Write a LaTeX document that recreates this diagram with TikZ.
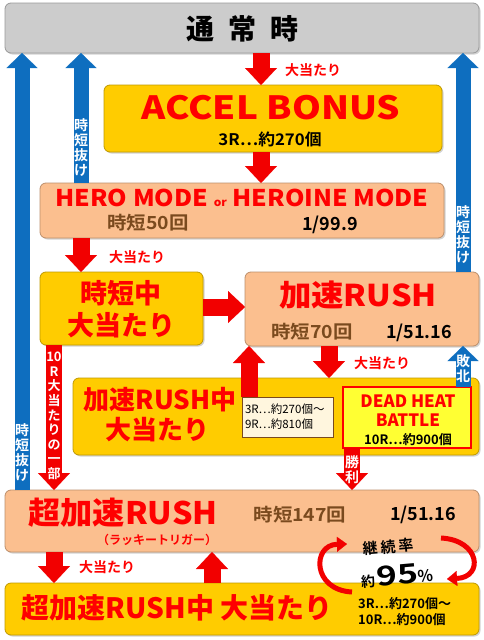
\documentclass[tikz,border=0pt]{standalone}
\usepackage{fontspec}
\setmainfont{Noto Sans CJK JP}[BoldFont={Noto Sans CJK JP Bold}]
\newfontfamily\heavy{Noto Sans CJK JP Black}
\usetikzlibrary{arrows.meta,shadows}

\definecolor{boxgray}{HTML}{CCCCCC}
\definecolor{boxyellow}{HTML}{FFCC00}
\definecolor{boxsalmon}{HTML}{FBBF8F}
\definecolor{battleyellow}{HTML}{FFFF33}
\definecolor{notecream}{HTML}{FFF6DE}
\definecolor{arrowred}{HTML}{F20000}
\definecolor{arrowblue}{HTML}{0E6EBF}
\definecolor{titlered}{HTML}{FF0000}
\definecolor{textbrown}{HTML}{7A4A1E}

\newcommand{\widen}[2]{\scalebox{#1}[1]{#2}}

\begin{document}
\begin{tikzpicture}[x=1pt,y=-1pt,
    panel/.style={fill=#1, draw=#1!75!black, line width=0.8pt, rounded corners=6pt,
      inner sep=0pt, outer sep=0pt,
      drop shadow={shadow xshift=1.5pt, shadow yshift=-1.5pt, opacity=0.35}},
    redarrow/.style={draw=arrowred, line width=17pt,
      -{Triangle[length=17pt, width=32pt, line width=0.1pt]}},
    bluearrow/.style={draw=arrowblue, line width=15pt,
      -{Triangle[length=15pt, width=31pt, line width=0.1pt]}},
    title/.style={text=titlered, font=\heavy\fontsize{#1}{#1}\selectfont, inner sep=0pt},
    title/.default=30,
    info/.style={font=\bfseries\fontsize{#1}{#1}\selectfont, inner sep=0pt},
    info/.default=18,
    hitlabel/.style={text=titlered, font=\bfseries\fontsize{14}{14}\selectfont, inner sep=0pt},
    vlabel/.style={text=white, font=\bfseries\fontsize{14}{15}\selectfont, align=center, inner sep=0pt}]

    \useasboundingbox (0,0) rectangle (484,640);

    % Draw boxes
    \node[panel=boxgray, minimum width=474pt, minimum height=50pt] (tsujo) at (242,28) {};
    \node[panel=boxyellow, minimum width=338pt, minimum height=67pt] (accel) at (273,118.5) {};
    \node[panel=boxsalmon, minimum width=404pt, minimum height=55pt] (hero) at (242,210.5) {};
    \node[panel=boxyellow, minimum width=163pt, minimum height=73pt] (jitanhit) at (121.5,308.5) {};
    \node[panel=boxsalmon, minimum width=234pt, minimum height=74pt] (kasoku) at (362,309) {};
    \node[panel=boxyellow, minimum width=406pt, minimum height=77pt] (kasokuhit) at (276,416.5) {};
    \node[fill=notecream, draw=textbrown, line width=0.6pt, minimum width=91pt, minimum height=40pt,
      text width=85pt, align=left, inner sep=0pt, outer sep=0pt,
      font=\fontsize{11.5}{15}\selectfont] (note) at (287.5,417) {3R…約270個～\\9R…約810個};
    \node[fill=battleyellow, draw=titlered, line width=1.2pt, minimum width=128pt, minimum height=61pt,
      inner sep=0pt, outer sep=0pt] (battle) at (407,417.5) {};
    \node[panel=boxsalmon, minimum width=474pt, minimum height=62pt] (chou) at (242,521) {};
    \node[panel=boxyellow, minimum width=474pt, minimum height=52pt] (chouhit) at (242,609) {};

    % Texts in boxes
    \node[font=\heavy\fontsize{28}{28}\selectfont] (tsujot) at (242,29) {通\hspace{14pt}常\hspace{14pt}時};
    \node[title=32] (accelt) at (271,108) {\widen{1.15}{ACCEL BONUS}};
    \node[info=16] (accelr) at (270,139) {\widen{1.05}{3R…約270個}};
    \node[title=23] (herot) at (242,198) {\widen{1.08}{HERO MODE {\fontsize{11}{11}\selectfont or} HEROINE MODE}};
    \node[info, text=textbrown] (herot2) at (148,223) {\widen{1.08}{時短50回}};
    \node[info] (herop) at (330,225) {1/99.9};
    \node[title=27] (jitant1) at (121,293) {時短中};
    \node[title=27] (jitant2) at (121,325) {大当たり};
    \node[title] (kasokut) at (358,295) {\widen{1.08}{加速RUSH}};
    \node[info, text=textbrown] (kasokut2) at (312,332) {\widen{1.08}{時短70回}};
    \node[info] (kasokup) at (419,333) {1/51.16};
    \node[title=26] (kasokuhit1) at (160,400) {加速RUSH中};
    \node[title=26] (kasokuhit2) at (157,430) {大当たり};
    \node[title=17] (battle1) at (408,401) {DEAD HEAT};
    \node[title=17] (battle2) at (408,420) {BATTLE};
    \node[info=13] (battle3) at (408,440) {10R…約900個};
    \node[title=31] (chout) at (123,513) {\widen{1.04}{超加速RUSH}};
    \node[text=titlered, font=\bfseries\fontsize{12}{12}\selectfont, inner sep=0pt] (choulucky) at (157,540) {（ラッキートリガー）};
    \node[info, text=textbrown] (chout2) at (300,515) {\widen{1.08}{時短147回}};
    \node[info] (choup) at (423,515) {1/51.16};
    \node[title=28] (chouhitt) at (177,608) {超加速RUSH中\hspace{6pt}大当たり};
    \node[info=13, anchor=west] (chouhitr1) at (358,604) {3R…約270個～};
    \node[info=13, anchor=west] (chouhitr2) at (358,620) {10R…約900個};

    % Columns for the arrows
    \coordinate (colL) at (22,0);
    \coordinate (colA) at (54,0);
    \coordinate (colB) at (81,0);
    \coordinate (colC) at (212,0);
    \coordinate (colD) at (249,0);
    \coordinate (colE) at (261,0);
    \coordinate (colF) at (329,0);
    \coordinate (colG) at (352,0);
    \coordinate (colR) at (463,0);
    \coordinate (rowJ) at (0,307);

    % Draw red arrows
    \draw[redarrow] (tsujo.south -| colE) -- (accel.north -| colE);
    \draw[redarrow] (accel.south -| colE) -- (hero.north -| colE);
    \draw[redarrow] (hero.south -| colB) -- (jitanhit.north -| colB);
    \draw[redarrow] (jitanhit.east |- rowJ) -- (kasoku.west |- rowJ);
    \draw[redarrow] (kasoku.south -| colF) -- (kasokuhit.north -| colF);
    \draw[redarrow] (note.north -| colD) -- (kasoku.south -| colD);
    \draw[redarrow, line width=16pt] (jitanhit.south -| colA) -- (chou.north -| colA);
    \draw[redarrow, line width=16pt] (battle.south -| colG) -- (chou.north -| colG);
    \draw[redarrow] (chou.south -| colA) -- (chouhit.north -| colA);
    \draw[redarrow] (chouhit.north -| colC) -- (chou.south -| colC);

    % Draw blue arrows
    \foreach \col/\from in {colL/chou, colB/hero, colR/kasoku}
      \draw[bluearrow] (\from.north -| \col) -- (tsujo.south -| \col);
    \draw[bluearrow] (battle.north -| colR) -- (kasoku.south -| colR);

    % Arrow labels
    \node[hitlabel] (hit1) at (313,70) {大当たり};
    \node[hitlabel] (hit2) at (137,257) {大当たり};
    \node[hitlabel] (hit3) at (382,363) {大当たり};
    \node[hitlabel] (hit4) at (107,567) {大当たり};
    \foreach \x/\y/\n in {22/453/exitL, 81/148/exitB, 463/235/exitR}
      \node[vlabel] (\n) at (\x,\y) {時\\短\\抜\\け};
    \node[vlabel] (lose) at (463,369) {敗\\北};
    \node[vlabel] (win) at (352,470) {勝\\利};
    \node[vlabel, font=\bfseries\fontsize{13}{14.6}\selectfont] (part) at (54,416)
      {10\\R\\大\\当\\た\\り\\の\\一\\部};

    % Draw loop around the rate
    \node[font=\bfseries\fontsize{15}{15}\selectfont, rotate=5, inner sep=0pt] (rate) at (388,547)
      {継\hspace{3pt}続\hspace{3pt}率};
    \node[font=\bfseries, rotate=5, inner sep=0pt] (ratev) at (397,575)
      {{\fontsize{14}{14}\selectfont 約}\hspace{2pt}{\heavy\fontsize{27}{22}\selectfont\widen{1.3}{95}}{\fontsize{16}{16}\selectfont\%}};
    \draw[arrowred, line width=5pt, -{Triangle[length=10pt, width=15pt, line width=0.1pt]}]
      (441,538) .. controls (480,540) and (484,577) .. (447,579);
    \draw[arrowred, line width=5pt, -{Triangle[length=10pt, width=15pt, line width=0.1pt]}]
      (352,592) .. controls (312,590) and (312,545) .. (347,544);
\end{tikzpicture}
\end{document}
